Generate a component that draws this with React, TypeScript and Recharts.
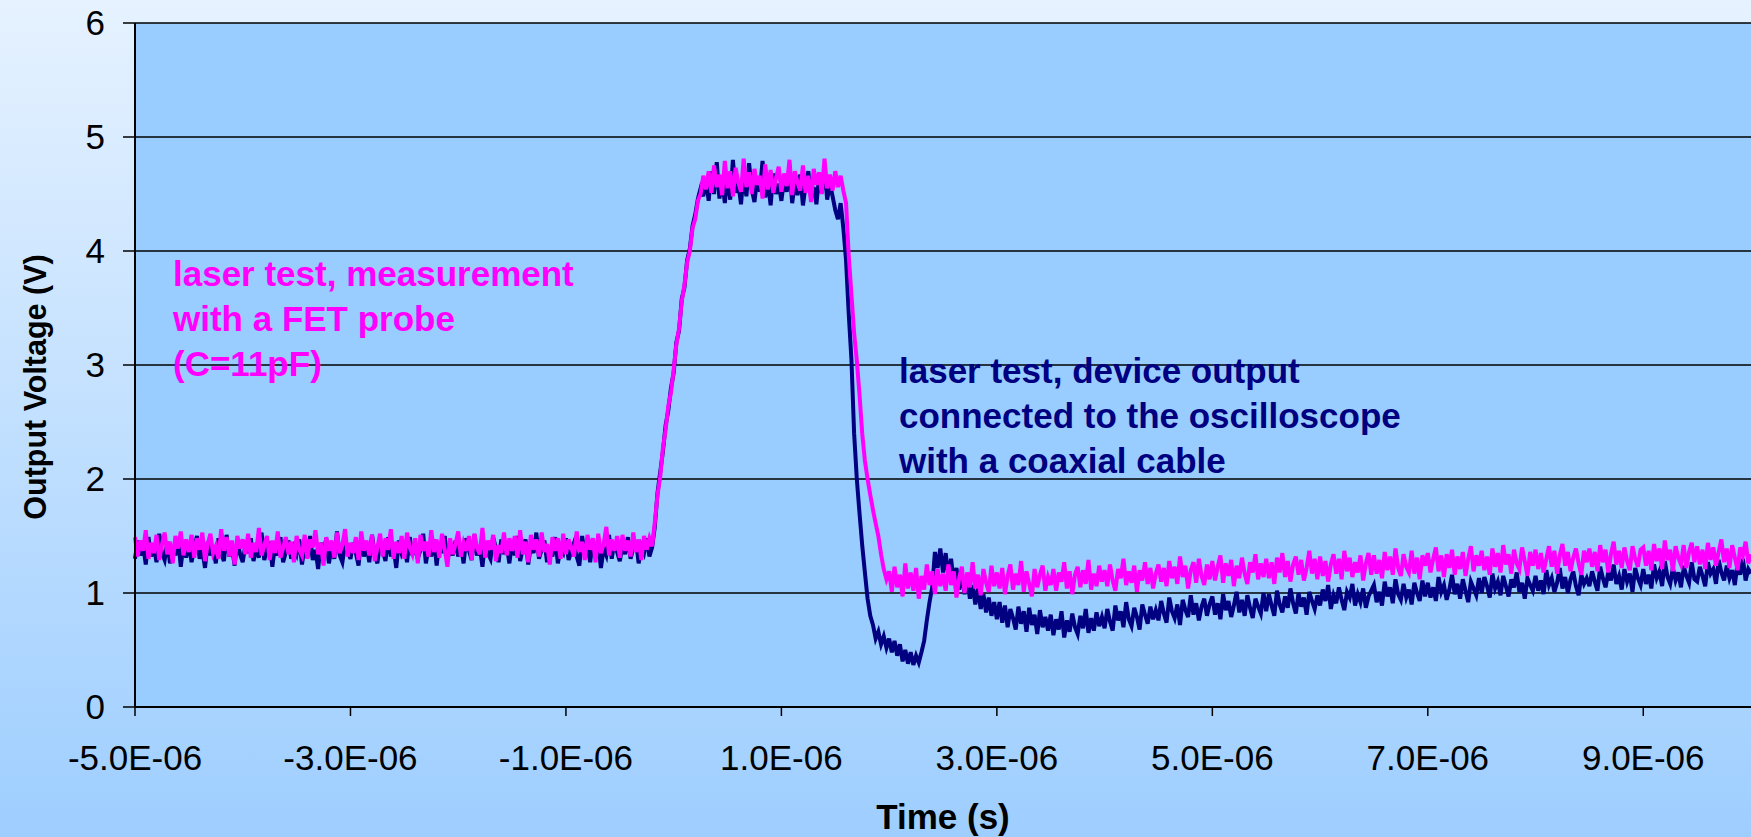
import React from 'react';
import { LineChart, Line, XAxis, YAxis, CartesianGrid, Label } from 'recharts';

// Oscilloscope capture: one sample every 25 ns from -5 µs to +10 µs (601 samples).
const SAMPLE_START_US = -5;
const SAMPLE_STEP_US = 0.025;

const TIME_TICKS_US = [-5, -3, -1, 1, 3, 5, 7, 9];
const VOLTAGE_TICKS = [0, 1, 2, 3, 4, 5, 6];

// Output voltage (V) measured with a FET probe (C = 11 pF); one row = 0.5 µs.
const fetProbe = [
  1.49,1.32,1.46,1.37,1.55,1.30,1.44,1.35,1.51,1.29,1.42,1.53,1.34,1.45,1.26,1.50,1.39,1.54,1.33,1.47,
  1.36,1.51,1.31,1.48,1.38,1.53,1.28,1.43,1.52,1.35,1.41,1.30,1.56,1.37,1.49,1.32,1.46,1.25,1.50,1.39,
  1.47,1.34,1.52,1.31,1.44,1.36,1.57,1.33,1.42,1.50,1.29,1.46,1.35,1.54,1.31,1.40,1.49,1.34,1.45,1.27,
  1.50,1.38,1.33,1.51,1.30,1.47,1.40,1.55,1.34,1.44,1.24,1.49,1.37,1.46,1.31,1.53,1.35,1.42,1.56,1.32,
  1.44,1.35,1.49,1.29,1.54,1.37,1.46,1.33,1.51,1.28,1.40,1.52,1.32,1.48,1.38,1.56,1.30,1.45,1.35,1.50,
  1.30,1.53,1.40,1.34,1.48,1.26,1.51,1.37,1.45,1.32,1.55,1.36,1.47,1.31,1.52,1.38,1.23,1.48,1.34,1.43,
  1.54,1.32,1.44,1.37,1.50,1.29,1.52,1.40,1.34,1.57,1.31,1.46,1.38,1.51,1.28,1.42,1.35,1.53,1.33,1.48,
  1.37,1.50,1.31,1.55,1.34,1.45,1.27,1.51,1.38,1.47,1.32,1.53,1.36,1.43,1.25,1.49,1.37,1.48,1.30,1.52,
  1.34,1.47,1.40,1.32,1.54,1.36,1.45,1.29,1.51,1.38,1.48,1.27,1.52,1.35,1.43,1.58,1.33,1.47,1.37,1.50,
  1.31,1.51,1.37,1.46,1.32,1.53,1.36,1.47,1.29,1.50,1.38,1.48,1.41,1.62,1.86,2.02,2.27,2.43,2.64,2.76,
  2.96,3.18,3.32,3.56,3.70,3.90,4.00,4.20,4.28,4.44,4.50,4.66,4.54,4.70,4.51,4.75,4.56,4.67,4.49,4.79,
  4.55,4.70,4.48,4.73,4.60,4.52,4.81,4.56,4.69,4.50,4.72,4.58,4.66,4.46,4.76,4.54,4.71,4.51,4.64,4.74,
  4.52,4.68,4.57,4.80,4.49,4.70,4.60,4.53,4.75,4.51,4.66,4.43,4.72,4.58,4.69,4.50,4.81,4.55,4.67,4.53,
  4.70,4.56,4.66,4.53,4.42,3.96,3.62,3.28,3.04,2.74,2.40,2.16,2.00,1.86,1.73,1.61,1.50,1.34,1.21,1.12,
  1.19,1.01,1.23,1.05,1.16,0.97,1.26,1.04,1.18,1.02,1.22,0.95,1.15,1.03,1.25,1.07,1.19,0.99,1.21,1.06,
  1.17,1.02,1.25,1.07,1.19,0.96,1.13,1.23,1.00,1.18,1.05,1.27,1.04,1.16,0.98,1.21,1.09,1.01,1.24,1.06,
  1.18,1.04,1.22,0.99,1.15,1.25,1.03,1.17,1.07,1.28,1.01,1.19,1.08,0.97,1.21,1.05,1.16,1.24,1.02,1.14,
  1.07,1.21,1.02,1.18,1.10,1.27,1.04,1.19,0.99,1.16,1.23,1.05,1.20,1.08,1.29,1.03,1.17,1.06,1.24,1.10,
  1.20,1.06,1.25,1.11,1.02,1.21,1.13,1.30,1.07,1.19,1.09,1.24,1.01,1.20,1.11,1.27,1.08,1.22,1.04,1.17,
  1.25,1.10,1.22,1.06,1.28,1.13,1.23,1.08,1.32,1.14,1.24,1.04,1.20,1.27,1.09,1.30,1.15,1.07,1.25,1.12,
  1.28,1.11,1.23,1.33,1.09,1.26,1.15,1.29,1.06,1.24,1.13,1.31,1.17,1.08,1.27,1.18,1.34,1.12,1.26,1.14,
  1.30,1.13,1.27,1.08,1.31,1.18,1.35,1.14,1.28,1.10,1.25,1.32,1.16,1.29,1.11,1.22,1.37,1.17,1.30,1.12,
  1.32,1.15,1.28,1.10,1.25,1.34,1.17,1.30,1.12,1.37,1.19,1.31,1.14,1.27,1.18,1.33,1.11,1.26,1.35,1.16,
  1.33,1.17,1.29,1.13,1.36,1.20,1.32,1.16,1.39,1.22,1.15,1.34,1.23,1.18,1.37,1.17,1.31,1.12,1.33,1.24,
  1.35,1.18,1.30,1.40,1.19,1.33,1.14,1.34,1.22,1.38,1.16,1.32,1.21,1.36,1.15,1.30,1.41,1.19,1.33,1.24,
  1.37,1.20,1.32,1.16,1.39,1.23,1.35,1.18,1.42,1.25,1.34,1.17,1.38,1.26,1.21,1.40,1.28,1.15,1.36,1.24,
  1.38,1.21,1.35,1.18,1.30,1.41,1.23,1.37,1.17,1.33,1.43,1.24,1.36,1.19,1.31,1.39,1.26,1.16,1.37,1.27,
  1.39,1.23,1.36,1.19,1.42,1.27,1.38,1.18,1.34,1.45,1.25,1.37,1.22,1.40,1.28,1.20,1.41,1.30,1.23,1.38,
  1.40,1.24,1.37,1.20,1.43,1.28,1.39,1.21,1.46,1.29,1.38,1.19,1.41,1.31,1.25,1.42,1.22,1.36,1.44,1.27,
  1.41,1.25,1.38,1.21,1.44,1.29,1.40,1.24,1.36,1.47,1.27,1.39,1.22,1.42,1.31,1.20,1.40,1.33,1.45,1.26,
  1.34,
];

// Output voltage (V) with the device output wired to the scope by coaxial cable; one row = 0.5 µs.
const coaxCable = [
  1.30,1.46,1.33,1.42,1.25,1.49,1.32,1.40,1.27,1.52,1.35,1.29,1.45,1.26,1.41,1.33,1.48,1.23,1.43,1.31,
  1.44,1.27,1.39,1.50,1.30,1.38,1.22,1.45,1.33,1.41,1.26,1.48,1.35,1.28,1.51,1.32,1.40,1.24,1.46,1.34,
  1.27,1.43,1.35,1.48,1.28,1.40,1.31,1.53,1.29,1.38,1.45,1.23,1.42,1.33,1.49,1.27,1.36,1.46,1.30,1.40,
  1.34,1.47,1.25,1.41,1.31,1.50,1.29,1.38,1.21,1.44,1.35,1.48,1.26,1.40,1.30,1.54,1.33,1.27,1.43,1.37,
  1.30,1.44,1.35,1.24,1.48,1.32,1.41,1.27,1.51,1.34,1.26,1.45,1.37,1.28,1.49,1.32,1.40,1.22,1.46,1.35,
  1.41,1.27,1.49,1.33,1.43,1.30,1.38,1.52,1.26,1.40,1.32,1.47,1.24,1.44,1.35,1.50,1.28,1.41,1.33,1.46,
  1.32,1.43,1.26,1.48,1.37,1.29,1.51,1.33,1.41,1.23,1.45,1.35,1.30,1.49,1.39,1.27,1.47,1.34,1.42,1.26,
  1.44,1.33,1.50,1.28,1.39,1.47,1.25,1.42,1.35,1.53,1.30,1.38,1.46,1.27,1.41,1.32,1.49,1.26,1.39,1.35,
  1.48,1.29,1.37,1.44,1.32,1.24,1.50,1.34,1.41,1.27,1.47,1.35,1.43,1.22,1.39,1.33,1.51,1.30,1.45,1.36,
  1.28,1.42,1.34,1.49,1.30,1.39,1.46,1.26,1.41,1.35,1.48,1.32,1.40,1.58,1.88,2.06,2.24,2.47,2.60,2.80,
  2.93,3.20,3.30,3.58,3.68,3.92,4.02,4.22,4.32,4.46,4.55,4.48,4.63,4.44,4.70,4.50,4.78,4.46,4.62,4.42,
  4.66,4.45,4.80,4.51,4.60,4.41,4.69,4.48,4.77,4.54,4.43,4.64,4.52,4.79,4.47,4.61,4.40,4.68,4.50,4.59,
  4.44,4.63,4.52,4.75,4.42,4.60,4.49,4.67,4.40,4.58,4.70,4.47,4.56,4.41,4.65,4.51,4.73,4.45,4.59,4.48,
  4.36,4.28,4.42,4.20,3.92,3.45,3.05,2.40,2.00,1.70,1.42,1.18,0.95,0.80,0.72,0.60,0.66,0.55,0.62,0.52,
  0.60,0.48,0.58,0.45,0.55,0.40,0.50,0.38,0.48,0.37,0.45,0.39,0.48,0.58,0.76,0.92,1.05,1.36,1.22,1.39,
  1.18,1.35,1.14,1.30,1.09,1.22,1.03,1.16,0.99,1.12,0.95,1.07,0.90,1.04,0.86,0.99,0.83,0.96,0.80,0.92,
  0.77,0.92,0.74,0.89,0.70,0.86,0.78,0.68,0.88,0.73,0.84,0.66,0.87,0.72,0.81,0.64,0.85,0.70,0.79,0.67,
  0.81,0.63,0.77,0.68,0.84,0.61,0.76,0.66,0.82,0.70,0.64,0.80,0.69,0.86,0.65,0.78,0.67,0.83,0.71,0.79,
  0.69,0.86,0.75,0.67,0.89,0.76,0.84,0.70,0.92,0.77,0.71,0.87,0.79,0.68,0.90,0.81,0.73,0.88,0.77,0.85,
  0.76,0.93,0.82,0.74,0.96,0.84,0.78,0.90,0.72,0.94,0.85,0.79,0.98,0.81,0.91,0.76,0.88,0.95,0.80,0.90,
  0.97,0.81,0.91,0.77,0.99,0.85,0.93,0.79,0.89,1.01,0.83,0.94,0.80,0.98,0.87,0.78,0.95,0.88,0.82,1.00,
  0.84,0.99,0.89,0.80,1.02,0.90,0.83,0.97,0.87,1.04,0.91,0.82,1.00,0.88,0.96,0.81,1.01,0.93,0.86,0.98,
  0.89,1.03,0.93,1.07,0.86,0.98,0.91,1.05,0.94,0.85,1.01,0.96,1.08,0.89,0.99,0.92,1.04,0.87,0.97,1.02,
  1.07,0.92,1.01,0.89,1.10,0.97,1.05,0.91,1.12,0.99,0.94,1.08,0.96,1.03,0.90,1.09,1.00,0.93,1.11,0.97,
  1.09,0.96,1.05,0.93,1.14,1.01,1.07,0.94,1.03,1.16,0.99,1.08,0.95,1.12,1.02,0.92,1.10,1.04,0.98,1.13,
  1.00,1.14,1.06,0.96,1.17,1.04,1.10,0.98,1.15,1.06,0.97,1.12,1.05,1.18,1.01,1.09,0.95,1.13,1.07,1.02,
  1.15,1.02,1.11,0.99,1.20,1.07,1.13,1.01,1.09,1.22,1.04,1.14,1.00,1.12,1.19,1.06,0.98,1.16,1.08,1.13,
  1.06,1.19,1.10,1.02,1.23,1.13,1.05,1.18,1.11,1.25,1.08,1.15,1.03,1.21,1.10,1.17,1.01,1.22,1.13,1.07,
  1.21,1.08,1.16,1.04,1.25,1.13,1.19,1.06,1.28,1.14,1.08,1.22,1.11,1.18,1.05,1.24,1.15,1.09,1.27,1.12,
  1.10,1.23,1.15,1.06,1.27,1.17,1.21,1.08,1.29,1.18,1.11,1.24,1.13,1.20,1.07,1.26,1.16,1.30,1.11,1.21,
  1.17,
];

const FET_NOTE = ['laser test, measurement', 'with a FET probe', '(C=11pF)'];
const COAX_NOTE = ['laser test, device output', 'connected to the oscilloscope', 'with a coaxial cable'];

const FONT = '"Liberation Sans", Arial, Helvetica, sans-serif';
const WIDTH = 1751;
const HEIGHT = 837;

const data = fetProbe.map((v, i) => ({
  t: SAMPLE_START_US + i * SAMPLE_STEP_US,
  fet: v,
  coax: coaxCable[i],
}));

const formatTime = (us: number) => `${us.toFixed(1)}E-06`;

const TimeTitle = (props: any) => {
  const vb = props.viewBox || { x: 135, y: 707, width: 1616, height: 130 };
  return (
    <text
      x={vb.x + vb.width / 2}
      y={vb.y + 122}
      textAnchor="middle"
      fontFamily={FONT}
      fontSize={35}
      fontWeight="bold"
      fill="#000"
    >
      Time (s)
    </text>
  );
};

const VoltageTitle = (props: any) => {
  const vb = props.viewBox || { x: 0, y: 23, width: 135, height: 684 };
  const cx = vb.x + 46;
  const cy = vb.y + vb.height / 2 + 22;
  return (
    <text
      x={cx}
      y={cy}
      transform={`rotate(-90 ${cx} ${cy})`}
      textAnchor="middle"
      fontFamily={FONT}
      fontSize={30.5}
      fontWeight="bold"
      fill="#000"
    >
      Output Voltage (V)
    </text>
  );
};

const Note = ({ lines, x, y, color }: { lines: string[]; x: number; y: number; color: string }) => (
  <text x={x} y={y} fontFamily={FONT} fontSize={35} fontWeight="bold" fill={color}>
    {lines.map((line, i) => (
      <tspan key={line} x={x} dy={i === 0 ? 0 : 45}>
        {line}
      </tspan>
    ))}
  </text>
);

export default function App() {
  return (
    <div
      style={{
        position: 'absolute',
        left: 0,
        top: 0,
        width: WIDTH,
        height: HEIGHT,
        background: 'linear-gradient(180deg, #E6F2FF 0%, #9ECEFF 100%)',
        overflow: 'hidden',
      }}
    >
      <LineChart
        width={WIDTH}
        height={HEIGHT}
        data={data}
        margin={{ top: 23, right: 0, bottom: 0, left: 0 }}
      >
        <CartesianGrid
          vertical={false}
          horizontal
          fill="#99CCFF"
          stroke="#000"
          strokeWidth={1.4}
          fillOpacity={1}
        />
        <XAxis
          type="number"
          dataKey="t"
          domain={[-5, 10]}
          ticks={TIME_TICKS_US}
          interval={0}
          tickFormatter={formatTime}
          height={130}
          tickSize={9}
          tickMargin={29}
          axisLine={{ stroke: '#000', strokeWidth: 2 }}
          tickLine={{ stroke: '#000', strokeWidth: 1.5 }}
          tick={{ fill: '#000', fontSize: 35, fontFamily: FONT }}
        >
          <Label content={TimeTitle} />
        </XAxis>
        <YAxis
          type="number"
          domain={[0, 6]}
          ticks={VOLTAGE_TICKS}
          interval={0}
          width={135}
          tickSize={12}
          tickMargin={18}
          axisLine={{ stroke: '#000', strokeWidth: 2 }}
          tickLine={{ stroke: '#000', strokeWidth: 1.5 }}
          tick={{ fill: '#000', fontSize: 35, fontFamily: FONT }}
        >
          <Label content={VoltageTitle} />
        </YAxis>
        <Line
          type="linear"
          dataKey="coax"
          stroke="#000080"
          strokeWidth={4}
          dot={false}
          activeDot={false}
          isAnimationActive={false}
        />
        <Line
          type="linear"
          dataKey="fet"
          stroke="#FF00FF"
          strokeWidth={4}
          dot={false}
          activeDot={false}
          isAnimationActive={false}
        />
      </LineChart>
      <svg
        width={WIDTH}
        height={HEIGHT}
        style={{ position: 'absolute', left: 0, top: 0, pointerEvents: 'none' }}
      >
        <Note lines={FET_NOTE} x={173} y={286} color="#FF00FF" />
        <Note lines={COAX_NOTE} x={899} y={383} color="#000080" />
      </svg>
    </div>
  );
}
